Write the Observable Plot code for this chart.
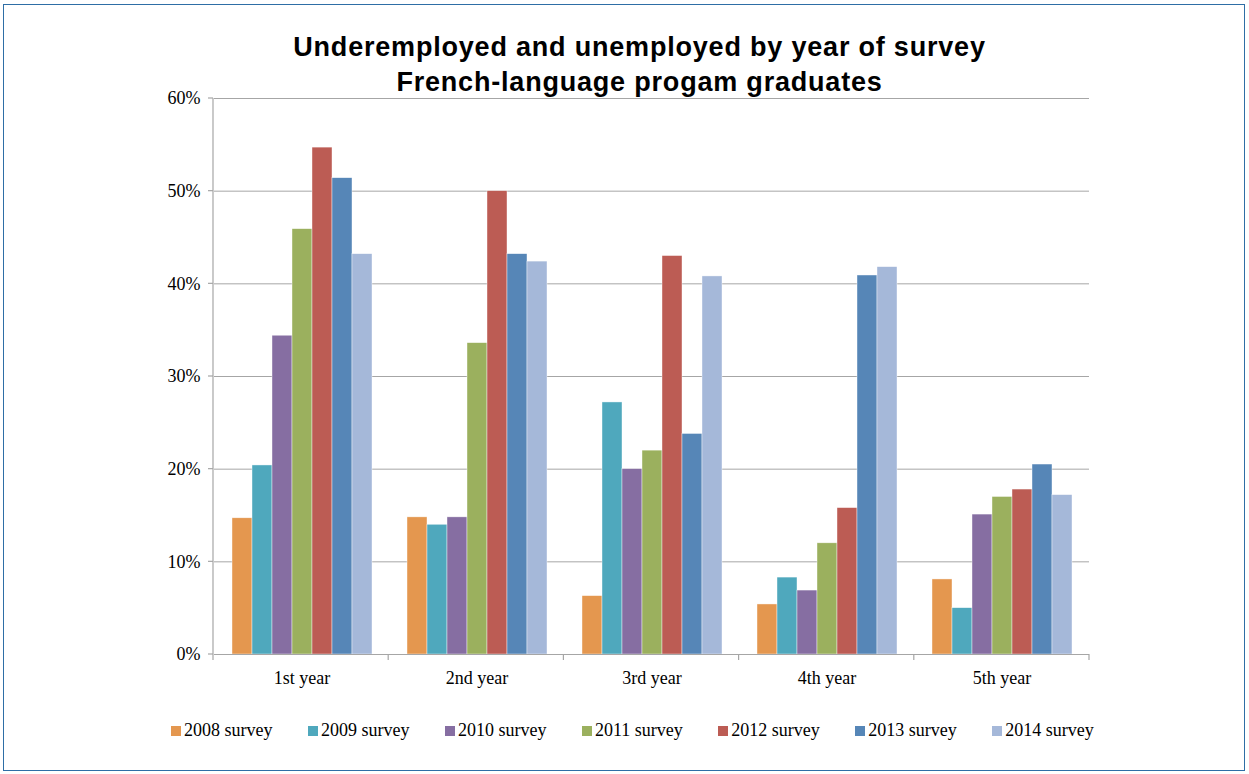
<!DOCTYPE html>
<html>
<head>
<meta charset="utf-8">
<script src="https://cdn.jsdelivr.net/npm/d3@7"></script>
<script src="https://cdn.jsdelivr.net/npm/@observablehq/plot@0.6"></script>
<style>
  html, body { margin: 0; padding: 0; background: #fff; }
  #wrap { position: relative; width: 1249px; height: 774px; overflow: hidden; }
  #border { position: absolute; left: 3px; top: 4px; width: 1240px; height: 765px; border: 1.5px solid #2E6EA6; pointer-events: none; }
  #title { position: absolute; left: 0; top: 30px; width: 1279px; text-align: center;
           font-family: "Liberation Sans", Arial, sans-serif; font-weight: bold; font-size: 27px; letter-spacing: 0.8px; line-height: 35px; color: #000; }
  #chart { position: absolute; left: 0; top: 0; }
  #legend { position: absolute; left: 171px; top: 720px; display: flex; gap: 35.5px;
            font-family: "Liberation Serif", "Times New Roman", serif; font-size: 18px; color: #000; }
  #legend .item { display: flex; align-items: center; }
  #legend .sw { width: 10px; height: 10px; margin-right: 3px; }
</style>
</head>
<body>
<div id="wrap">
  <div id="chart"></div>
  <div id="title">Underemployed and unemployed by year of survey<br>French-language progam graduates</div>
  <div id="legend"></div>
  <div id="border"></div>
</div>
<script>
const years = ["1st year", "2nd year", "3rd year", "4th year", "5th year"];
const surveys = ["2008 survey", "2009 survey", "2010 survey", "2011 survey", "2012 survey", "2013 survey", "2014 survey"];
const colors = ["#E4974F", "#4FA8BD", "#866EA2", "#9BB05E", "#BC5C54", "#5686B7", "#A5B8D9"];
const yTicks = [0, 10, 20, 30, 40, 50, 60];

const s2008 = [14.7, 14.8, 6.3, 5.4, 8.1];
const s2009 = [20.4, 14.0, 27.2, 8.3, 5.0];
const s2010 = [34.4, 14.8, 20.0, 6.9, 15.1];
const s2011 = [45.9, 33.6, 22.0, 12.0, 17.0];
const s2012 = [54.7, 50.0, 43.0, 15.8, 17.8];
const s2013 = [51.4, 43.2, 23.8, 40.9, 20.5];
const s2014 = [43.2, 42.4, 40.8, 41.8, 17.2];

const series = [s2008, s2009, s2010, s2011, s2012, s2013, s2014];
const data = [];
years.forEach((yr, i) => {
  surveys.forEach((sv, j) => data.push({year: yr, survey: sv, value: series[j][i]}));
});

const W = 1249, H = 774;
const chart = Plot.plot({
  width: W, height: H,
  marginLeft: 213, marginRight: 160, marginTop: 98, marginBottom: 120,
  style: {background: "transparent", fontFamily: "'Liberation Serif', 'Times New Roman', serif", fontSize: "18px", color: "#000"},
  fx: {domain: years, padding: 0, label: null, axis: "bottom", tickSize: 0, tickPadding: 17},
  x: {domain: surveys, axis: null, paddingInner: 0, paddingOuter: 0.76},
  y: {domain: [0, 60], ticks: yTicks, tickSize: 0, tickPadding: 14, tickFormat: d => d + "%", label: null, grid: false},
  color: {domain: surveys, range: colors},
  marks: [
    Plot.gridY(yTicks.filter(d => d > 0), {stroke: "#A6A6A6", strokeOpacity: 1, strokeWidth: 1}),
    Plot.barY(data, {fx: "year", x: "survey", y: "value", fill: "survey", stroke: "#ffffff", strokeWidth: 0.6, strokeOpacity: 0.7}),
    Plot.ruleY([0], {stroke: "#A6A6A6", strokeWidth: 1.2})
  ]
});
document.getElementById("chart").appendChild(chart);

// axis line on the left and group-boundary ticks at the bottom, from Plot's own scales
const fxS = chart.scale("fx"), yS = chart.scale("y");
const band = d3.scaleBand().domain(fxS.domain).range(fxS.range).paddingInner(fxS.paddingInner ?? 0).paddingOuter(fxS.paddingOuter ?? 0);
const y0 = yS.apply(0), yTop = yS.apply(60);
const svg = d3.select(chart.tagName.toLowerCase() === "svg" ? chart : chart.querySelector("svg"));
const g = svg.append("g").attr("stroke", "#A6A6A6").attr("stroke-width", 1.2);
const x0 = band(years[0]);
g.append("line").attr("x1", x0).attr("x2", x0).attr("y1", yTop).attr("y2", y0 + 6);
years.forEach(yr => {
  const xe = band(yr) + band.bandwidth();
  g.append("line").attr("x1", xe).attr("x2", xe).attr("y1", y0).attr("y2", y0 + 6);
});
// y tick marks
yTicks.forEach(t => {
  const yy = yS.apply(t);
  g.append("line").attr("x1", x0 - 5).attr("x2", x0).attr("y1", yy).attr("y2", yy);
});

// legend
const leg = document.getElementById("legend");
surveys.forEach((s, i) => {
  const it = document.createElement("div");
  it.className = "item";
  it.innerHTML = `<span class="sw" style="background:${colors[i]}"></span><span>${s}</span>`;
  leg.appendChild(it);
});
</script>
</body>
</html>
